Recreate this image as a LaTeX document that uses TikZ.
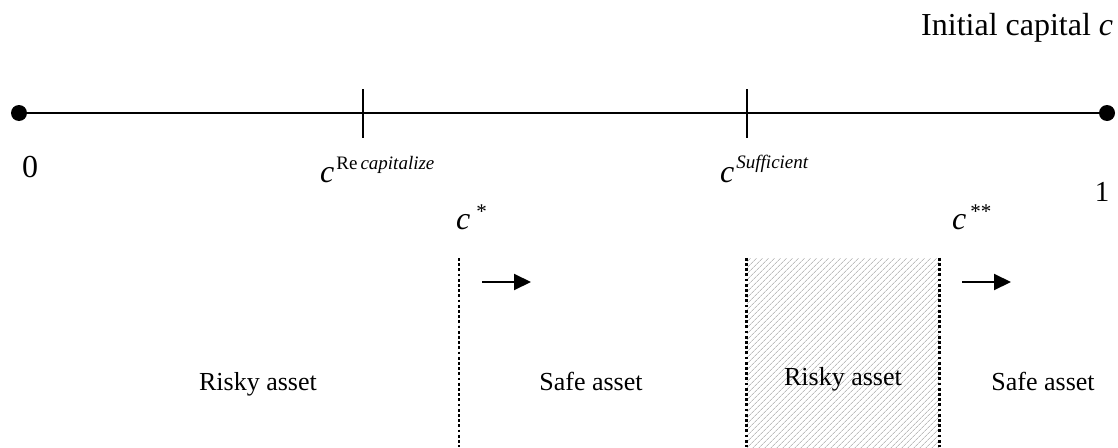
\documentclass[tikz,border=0pt]{standalone}
\usepackage{fontspec}
\setmainfont{Liberation Serif}
\usetikzlibrary{arrows.meta,patterns.meta}
\newcommand{\fsz}[1]{\fontsize{#1}{#1}\selectfont}
\begin{document}
\begin{tikzpicture}[x=1pt,y=-1pt,
  dotend/.style={circle,fill=black,inner sep=0pt,minimum size=16pt},
  axisline/.style={line width=2pt},
  tickmark/.style={line width=2pt},
  dotsep/.style={line width=2.8pt,dash pattern=on 2.8pt off 2.4pt},
  shiftarrow/.style={line width=2pt,-{Triangle[length=17pt,width=16pt]}},
  lbl/.style={inner sep=0pt,font=\fsz{26}},
  mlbl/.style={inner sep=0pt,anchor=base west,font=\fsz{32}},
  hatchbox/.style={inner sep=0pt,minimum width=192pt,minimum height=189pt,
    pattern={Lines[angle=45,distance=4pt,line width=0.5pt]},pattern color=black!40}]
\useasboundingbox (0,0) rectangle (1118,447);
% main axis
\node[dotend] (left) at (19,113) {};
\node[dotend] (right) at (1107,113) {};
\draw[axisline] (left.center) -- (right.center);
% ticks
\coordinate (t1a) at (363,89); \coordinate (t1b) at (363,138);
\coordinate (t2a) at (747,89); \coordinate (t2b) at (747,138);
\draw[tickmark] (t1a) -- (t1b);
\draw[tickmark] (t2a) -- (t2b);
% end labels
\node[inner sep=0pt,font=\fsz{32}] (zero) at (30,167) {0};
\node[inner sep=0pt,font=\fsz{29}] (one) at (1102,192) {1};
\node[inner sep=0pt,anchor=base west,font=\fsz{32}] (title) at (921,35) {Initial capital \textit{c}};
% threshold labels
\node[mlbl] (crecap) at (320,182) {\textit{c}\kern2pt\raisebox{13pt}{\fsz{19}Re\kern3pt\textit{capitalize}}};
\node[mlbl] (csuff) at (720,182) {\textit{c}\kern2pt\raisebox{14pt}{\fsz{19}\textit{Sufficient}}};
\node[mlbl] (cstar) at (456,229) {\textit{c}\kern6pt\raisebox{11pt}{\fsz{21}*}};
\node[mlbl] (cstarstar) at (952,229) {\textit{c}\kern4pt\raisebox{11pt}{\fsz{21}**}};
% hatched region
\node[hatchbox] (box) at (843,352.5) {};
\draw[dotsep] (box.north west) -- (box.south west);
\draw[dotsep] (box.north east) -- (box.south east);
% dotted separator at c*
\coordinate (sepa) at (459,258); \coordinate (sepb) at (459,447);
\draw[dotsep] (sepa) -- (sepb);
% arrows
\coordinate (a1s) at (482,282); \coordinate (a1e) at (531,282);
\coordinate (a2s) at (962,282); \coordinate (a2e) at (1011,282);
\draw[shiftarrow] (a1s) -- (a1e);
\draw[shiftarrow] (a2s) -- (a2e);
% region labels
\node[lbl,anchor=base] (r1) at (258,390) {Risky asset};
\node[lbl,anchor=base] (s1) at (591,390) {Safe asset};
\node[lbl,anchor=base] (r2) at (843,385) {Risky asset};
\node[lbl,anchor=base] (s2) at (1043,390) {Safe asset};
\end{tikzpicture}
\end{document}
